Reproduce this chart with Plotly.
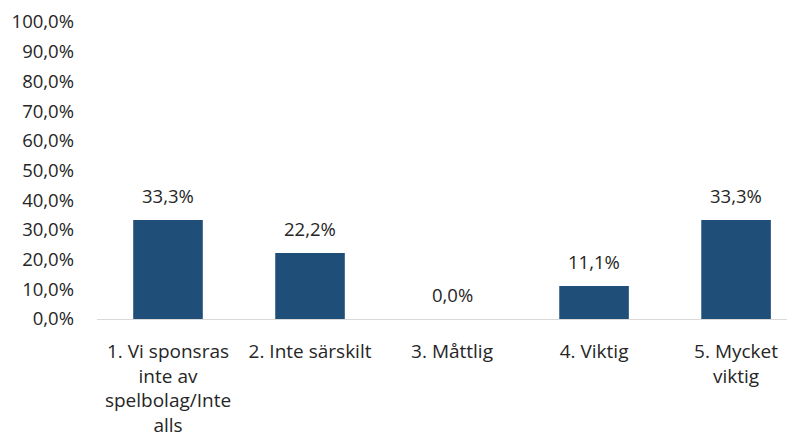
import plotly.graph_objects as go

categories = [
    "1. Vi sponsras<br>inte av<br>spelbolag/Inte<br>alls",
    "2. Inte särskilt",
    "3. Måttlig",
    "4. Viktig",
    "5. Mycket<br>viktig",
]
values = [33.3, 22.2, 0.0, 11.1, 33.3]
y_ticks = list(range(0, 101, 10))
y_tick_labels = [f"{t:.1f}%".replace(".", ",") for t in y_ticks]

font_family = "Open Sans"
bar_color = "#1F4E79"
fsize = 18.5

fig = go.Figure()
fig.add_trace(go.Bar(
    x=categories,
    y=values,
    marker=dict(color=bar_color, line=dict(width=0)),
    showlegend=False,
))

for cat, v in zip(categories, values):
    fig.add_annotation(
        x=cat, y=v,
        text=f"{v:.1f}%".replace(".", ","),
        showarrow=False,
        yanchor="middle",
        yshift=25,
        font=dict(family=font_family, size=fsize, color="#262626"),
    )

fig.update_layout(
    width=795, height=443,
    margin=dict(l=89, r=8, t=14, b=132),
    paper_bgcolor="white",
    plot_bgcolor="white",
    bargap=0.51,
    font=dict(family=font_family, size=fsize, color="#262626"),
    xaxis=dict(
        range=[-0.5, 4.415],
        showline=True, linecolor="#D9D9D9", linewidth=1,
        ticks="", showgrid=False,
        tickfont=dict(size=19),
        ticklabelstandoff=15,
        automargin=False,
    ),
    yaxis=dict(
        range=[0, 100],
        tickvals=y_ticks,
        ticktext=y_tick_labels,
        showgrid=False, zeroline=False, showline=False,
        ticks="",
        tickfont=dict(size=fsize),
        ticklabelstandoff=22,
        automargin=False,
    ),
)

fig.write_html("out.html")
